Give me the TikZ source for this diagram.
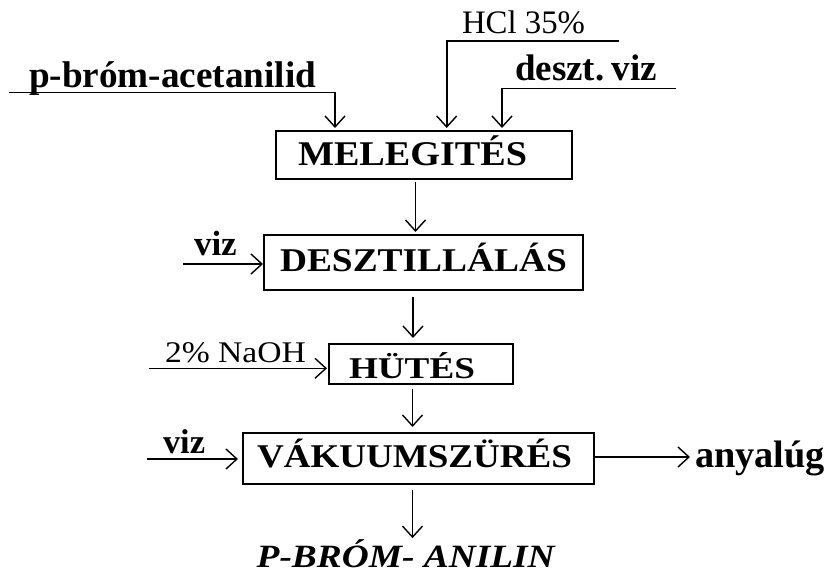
\documentclass[tikz,border=0pt]{standalone}
\usepackage{fontspec}
\usepackage{graphicx}
\setmainfont{Liberation Serif}
\usetikzlibrary{arrows.meta,calc}

\newcommand{\fs}[1]{\fontsize{#1}{#1}\selectfont}

\tikzset{
  stage/.style={draw, line width=2pt, inner sep=0pt, outer sep=0pt, anchor=north west},
  lbl/.style={inner sep=0pt, outer sep=0pt, anchor=base west},
  flow/.style={line width=1.6pt,
    -{Straight Barb[length=11pt,width=20pt,line width=1.4pt]}},
}

\begin{document}
\begin{tikzpicture}[x=1pt,y=-1pt]
\fill[white] (0,0) rectangle (826,575);
\useasboundingbox (0,0) rectangle (826,575);

% process stages (frames)
\node[stage, minimum width=296pt, minimum height=48pt] (mel)  at (276,131) {};
\node[stage, minimum width=319pt, minimum height=55pt] (desz) at (264,235) {};
\node[stage, minimum width=184pt, minimum height=40pt] (hut)  at (329,344) {};
\node[stage, minimum width=351pt, minimum height=51pt] (vak)  at (243,433) {};

% stage titles
\node[lbl] (melT)  at (298,165) {\fs{34.7}\bfseries\scalebox{1.10}[1]{MELEGITÉS}};
\node[lbl] (deszT) at (280,271) {\fs{33.2}\bfseries\scalebox{1.127}[1]{DESZTILLÁLÁS}};
\node[lbl] (hutT)  at (349,378) {\fs{30.2}\bfseries\scalebox{1.23}[1]{HÜTÉS}};
\node[lbl] (vakT)  at (257,467) {\fs{33.2}\bfseries\scalebox{1.116}[1]{VÁKUUMSZÜRÉS}};

% product
\node[lbl] (prod) at (256.7,567) {\fs{32.5}\bfseries\itshape\scalebox{1.15}[1]{P-BRÓM- ANILIN}};

% feed labels
\node[lbl] (pbT)   at (29,88)   {\fs{37.2}\bfseries p-bróm-acetanilid};
\node[lbl] (hclT)  at (462,34)  {\fs{32.8}HCl 35\%};
\node[lbl] (dvT)   at (515,81)  {\fs{37}\bfseries\spaceskip=0.12em\relax deszt. viz};
\node[lbl] (vizA)  at (194,255) {\fs{35}\bfseries viz};
\node[lbl] (naohT) at (165,362) {\fs{30}\scalebox{1.12}[1]{2\% NaOH}};
\node[lbl] (vizB)  at (163,453) {\fs{34.4}\bfseries viz};
\node[lbl] (anyT)  at (695,467) {\fs{38.3}\bfseries anyalúg};

% feed line starts
\coordinate (pbIn)   at (9,92.7);
\coordinate (hclIn)  at (619,41);
\coordinate (dvIn)   at (676,88.7);
\coordinate (vizAIn) at (183,264);
\coordinate (naohIn) at (149,368.3);
\coordinate (vizBIn) at (147,459);
\coordinate (anyEnd) at (690,457);

% feeds into heating
\draw[flow] (pbIn)  -| ($(mel.north west)+(59,-3)$);
\draw[flow] (hclIn) -| ($(mel.north west)+(170.7,-3)$);
\draw[flow] (dvIn)  -| ($(mel.north west)+(226,-3)$);

% side feeds
\draw[flow] (vizAIn) -- ($(vizAIn -| desz.west)+(-1,0)$);
\draw[flow] (naohIn) -- ($(naohIn -| hut.west)+(-2,0)$);
\draw[flow] (vizBIn) -- ($(vizBIn -| vak.west)+(-5,0)$);

% main line
\draw[flow] ($(mel.south)+(-8.5,3)$)  -- ($(desz.north)+(-8,-3)$);
\draw[flow] ($(desz.south)+(-10.5,7)$) -- ($(hut.north)+(-8,-6)$);
\draw[flow] ($(hut.south)+(-8.5,5)$)  -- ($(vak.north)+(-6,-6)$);
\coordinate (vs) at ($(vak.south)+(-6,6)$);
\draw[flow] (vs) -- ($(vs |- prod.north)+(0,-1)$);

% mother liquor out
\draw[flow] (vak.east |- anyEnd) -- (anyEnd);
\end{tikzpicture}
\end{document}
